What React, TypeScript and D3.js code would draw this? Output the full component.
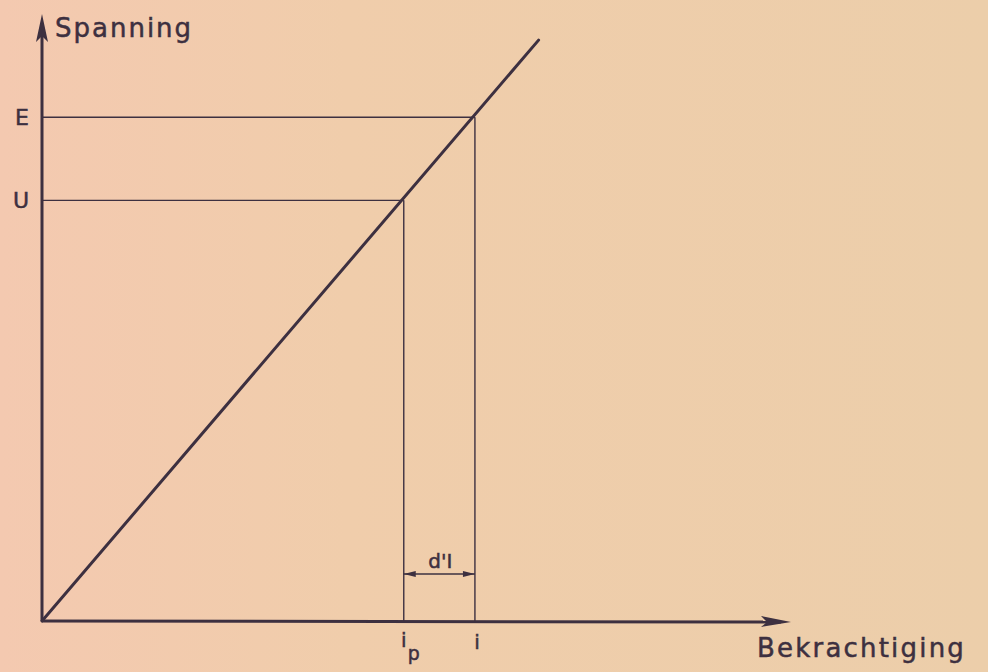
import React from 'react';
import * as d3 from 'd3';

// values (arbitrary units, axes run 0..10)
const xDomain = [0, 10];
const yDomain = [0, 10];
const lineX = [0, 6.63];
const lineY = [0, 9.57];
const levelLabels = ['E', 'U'];
const levelValues = [8.3, 6.93];
const currentLabels = ['i', 'i_d'];
const currentValues = [5.78, 4.83];
const deltaLabel = "d'I";
const yAxisLabel = 'Spanning';
const xAxisLabel = 'Bekrachtiging';

const W = 988;
const H = 672;
const ink = '#3d3040';
const font = '"DejaVu Sans", "Liberation Sans", sans-serif';
const bold = { stroke: ink, strokeWidth: 0.5 };

export default function App() {
  const x = d3.scaleLinear().domain(xDomain).range([42, 791]);
  const y = d3.scaleLinear().domain(yDomain).range([621, 14]);

  const x0 = x(0);
  const y0 = y(0);
  const xEnd = x(xDomain[1]);
  const yEnd = y(yDomain[1]);

  const line = d3.line<[number, number]>()
    .x(d => x(d[0]))
    .y(d => y(d[1]));
  const pts: [number, number][] = lineX.map((v, i) => [v, lineY[i]]);

  // arrow for the d'I span between i_d and i
  const spanY = 574;
  const xa = x(currentValues[1]);
  const xb = x(currentValues[0]);

  const arrowUp = `M${x0},${yEnd} L${x0 - 6},${yEnd + 28} L${x0},${yEnd + 22} L${x0 + 6},${yEnd + 28} Z`;
  const arrowRight = `M${xEnd},${y0 + 1} L${xEnd - 30},${y0 - 5} L${xEnd - 24},${y0 + 1} L${xEnd - 30},${y0 + 6} Z`;

  return (
    <div style={{ position: 'fixed', left: 0, top: 0 }}>
      <svg width={W} height={H} style={{ display: 'block' }}>
        <defs>
          <linearGradient id="paper" x1="0" x2="1" y1="0" y2="0">
            <stop offset="0" stopColor="#f4c9b0" />
            <stop offset="0.35" stopColor="#f0cdab" />
            <stop offset="1" stopColor="#ecceaa" />
          </linearGradient>
        </defs>
        <rect width={W} height={H} fill="url(#paper)" />

        {/* guide lines */}
        {levelValues.map((v, i) => (
          <line key={'h' + i} x1={x0} x2={x(currentValues[i])} y1={y(v)} y2={y(v)}
            stroke={ink} strokeWidth={1.4} />
        ))}
        {currentValues.map((v, i) => (
          <line key={'v' + i} x1={x(v)} x2={x(v)} y1={y(levelValues[i])} y2={y0}
            stroke={ink} strokeWidth={1.4} />
        ))}

        {/* characteristic */}
        <path d={line(pts) ?? ''} fill="none" stroke={ink} strokeWidth={3} strokeLinecap="round" />

        {/* axes */}
        <line x1={x0} x2={x0} y1={y0} y2={yEnd + 10} stroke={ink} strokeWidth={3} />
        <line x1={x0} x2={xEnd - 10} y1={y0} y2={y0 + 1} stroke={ink} strokeWidth={3} />
        <path d={arrowUp} fill={ink} />
        <path d={arrowRight} fill={ink} />

        <text x={55} y={37} fontFamily={font} fontSize={26} letterSpacing={2} fill={ink} {...bold}>{yAxisLabel}</text>
        <text x={757} y={657} fontFamily={font} fontSize={26} letterSpacing={2.2} fill={ink} {...bold}>{xAxisLabel}</text>

        {levelLabels.map((l, i) => (
          <text key={l} x={29} y={y(levelValues[i])} dy="0.35em" textAnchor="end"
            fontFamily={font} fontSize={22} fill={ink} {...bold}>{l}</text>
        ))}

        {/* current labels */}
        <text x={xb + 2} y={649} textAnchor="middle" fontFamily={font} fontSize={20} fill={ink} {...bold}>{currentLabels[0]}</text>
        <text x={xa} y={647} textAnchor="middle" fontFamily={font} fontSize={20} fill={ink} {...bold}>i</text>
        <text transform={`translate(${xa + 10},${649}) rotate(180)`} textAnchor="middle"
          fontFamily={font} fontSize={19} fill={ink} {...bold}>d</text>

        {/* d'I span */}
        <line x1={xa} x2={xb} y1={spanY} y2={spanY} stroke={ink} strokeWidth={1.4} />
        <path d={`M${xa},${spanY} L${xa + 12},${spanY - 3} L${xa + 12},${spanY + 3} Z`} fill={ink} />
        <path d={`M${xb},${spanY} L${xb - 12},${spanY - 3} L${xb - 12},${spanY + 3} Z`} fill={ink} />
        <text x={(xa + xb) / 2 + 1} y={568} textAnchor="middle" fontFamily={font} fontSize={20}
          fill={ink} {...bold}>{deltaLabel}</text>
      </svg>
    </div>
  );
}
